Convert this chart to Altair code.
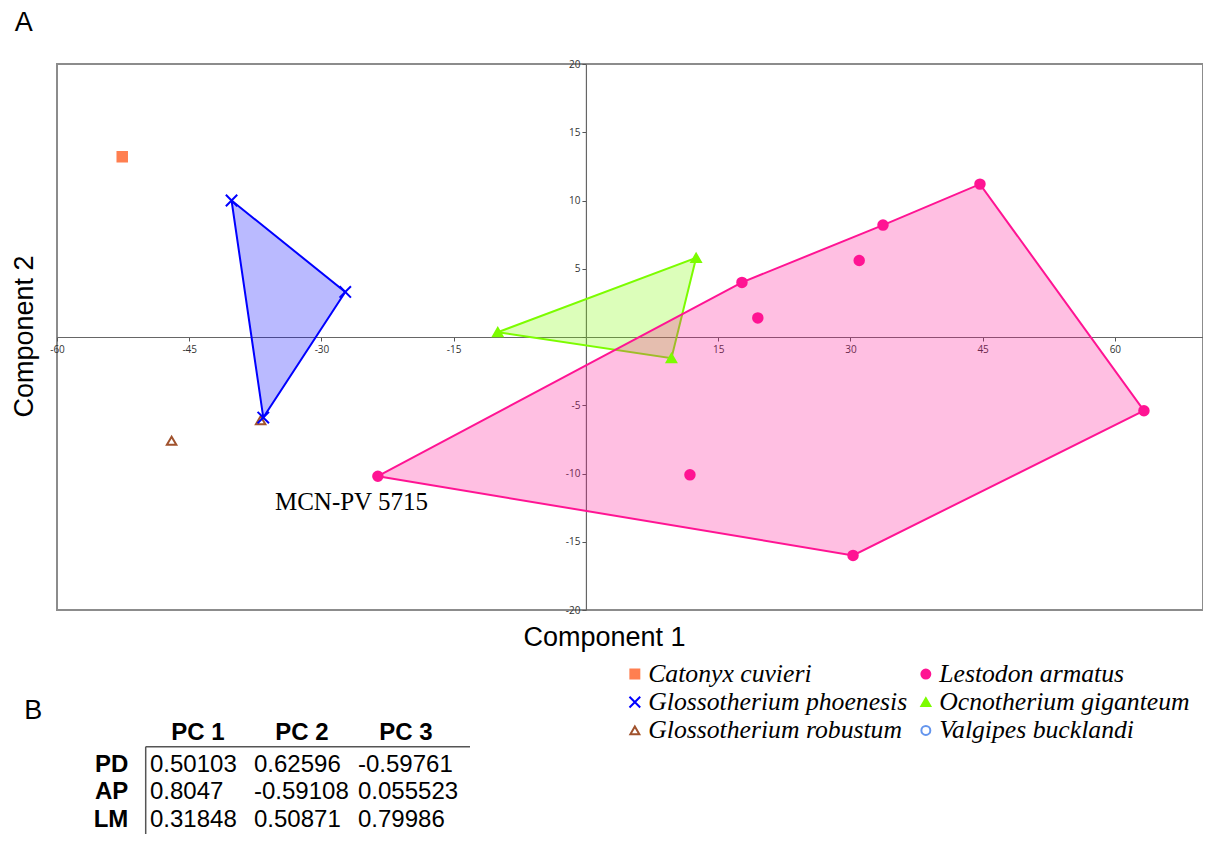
import altair as alt
import pandas as pd

# ---------------- Panel A data ----------------
species_order = ["Catonyx cuvieri", "Glossotherium phoenesis", "Glossotherium robustum",
                 "Lestodon armatus", "Ocnotherium giganteum", "Valgipes bucklandi"]

catonyx_x = [-52.6]
catonyx_y = [13.2]
robustum_x = [-47.0, -36.9]
robustum_y = [-7.6, -6.1]
phoenesis_x = [-40.2, -27.3, -36.6]
phoenesis_y = [10.0, 3.3, -5.9]
ocnotherium_x = [-10.0, 12.5, 9.7]
ocnotherium_y = [0.35, 5.8, -1.55]
lestodon_x = [-23.6, 17.7, 19.5, 31.0, 33.7, 44.7, 63.3, 30.3, 11.8]
lestodon_y = [-10.2, 4.0, 1.4, 5.6, 8.2, 11.2, -5.4, -16.0, -10.1]

# hull vertex order (indices into the series above)
phoenesis_hull = [0, 1, 2, 0]
ocnotherium_hull = [0, 1, 2, 0]
lestodon_hull = [0, 1, 4, 5, 6, 7, 0]

annot_text = ["MCN-PV 5715"]
annot_x = [-26.6]
annot_y = [-12.1]

x_ticks = [-60, -45, -30, -15, 0, 15, 30, 45, 60]
y_ticks = [-20, -15, -10, -5, 0, 5, 10, 15, 20]

# ---------------- Panel B data ----------------
pc_cols = ["PC 1", "PC 2", "PC 3"]
var_rows = ["PD", "AP", "LM"]
load_PD = ["0.50103", "0.62596", "-0.59761"]
load_AP = ["0.8047", "-0.59108", "0.055523"]
load_LM = ["0.31848", "0.50871", "0.79986"]

# ---------------- styles ----------------
fill_range = ["#ff7f50", "transparent", "transparent", "#ff1493", "#7cfc00", "transparent"]
stroke_range = ["#ff7f50", "#0000ff", "#a0522d", "#ff1493", "#7cfc00", "#6495ed"]
shape_range = ["square", "M-1.2,-1.2L1.2,1.2M-1.2,1.2L1.2,-1.2", "triangle-up",
               "circle", "triangle-up", "circle"]

W, H = 1146, 546
X0 = W * 60 / 130  # pixel position of x = 0
XS = alt.Scale(domain=[-60, 70], nice=False, zero=False)
YS = alt.Scale(domain=[-20, 20], nice=False, zero=False)
common_axis = dict(grid=False, labelFlush=False, labelFont="Open Sans", labelFontSize=10,
                   labelColor="#333333", tickSize=4, tickColor="#555555",
                   domainColor="#666666", domainWidth=1.2, titleFont="Liberation Sans",
                   titleFontSize=27, titleFontWeight="normal", titleColor="black",
                   titleBaseline="alphabetic",
                   labelExpr="datum.value == 0 ? '' : toString(datum.value)")
X_AXIS = alt.Axis(values=x_ticks, offset=-H / 2, title="Component 1", titleX=547, titleY=308,
                  labelPadding=3, **common_axis)
Y_AXIS = alt.Axis(values=y_ticks, offset=-X0, title="Component 2", titleX=-24.5 - X0,
                  titleY=272, titleAngle=-90, labelPadding=2, **common_axis)


def xenc():
    return alt.X("x:Q", scale=XS, axis=X_AXIS)


def yenc():
    return alt.Y("y:Q", scale=YS, axis=Y_AXIS)


def hull_layer(xs, ys, order, color):
    df = pd.DataFrame({"x": [xs[i] for i in order], "y": [ys[i] for i in order],
                       "o": list(range(len(order)))})
    return alt.Chart(df).mark_line(stroke=color, fill=color, fillOpacity=0.27,
                                   strokeWidth=2).encode(
        x=xenc(), y=yenc(), order=alt.Order("o:Q"))


hulls = [
    hull_layer(phoenesis_x, phoenesis_y, phoenesis_hull, "#0000ff"),
    hull_layer(ocnotherium_x, ocnotherium_y, ocnotherium_hull, "#7cfc00"),
    hull_layer(lestodon_x, lestodon_y, lestodon_hull, "#ff1493"),
]

rows = []
for name, xs, ys in [("Catonyx cuvieri", catonyx_x, catonyx_y),
                     ("Glossotherium robustum", robustum_x, robustum_y),
                     ("Glossotherium phoenesis", phoenesis_x, phoenesis_y),
                     ("Ocnotherium giganteum", ocnotherium_x, ocnotherium_y),
                     ("Lestodon armatus", lestodon_x, lestodon_y)]:
    for a, b in zip(xs, ys):
        rows.append({"species": name, "x": a, "y": b})
pts = pd.DataFrame(rows)

leg = alt.Legend(title=None, orient="none", legendX=565, legendY=597, columns=2,
                 columnPadding=5, rowPadding=1.3, labelFont="Liberation Serif",
                 labelFontStyle="italic", labelFontSize=25.7, labelColor="black",
                 labelLimit=500, labelOffset=0.5, symbolSize=80, symbolStrokeWidth=2,
                 padding=0)

points = alt.Chart(pts).mark_point(size=90, strokeWidth=2, opacity=1).encode(
    x=xenc(), y=yenc(),
    fill=alt.Fill("species:N", scale=alt.Scale(domain=species_order, range=fill_range), legend=leg),
    stroke=alt.Stroke("species:N", scale=alt.Scale(domain=species_order, range=stroke_range), legend=leg),
    shape=alt.Shape("species:N", scale=alt.Scale(domain=species_order, range=shape_range), legend=leg),
)

annot = alt.Chart(pd.DataFrame({"t": annot_text, "x": annot_x, "y": annot_y})).mark_text(
    font="Liberation Serif", fontSize=25, color="black", align="center", baseline="middle"
).encode(x=xenc(), y=yenc(), text="t:N")

plot = alt.layer(*hulls, points, annot)

# ---------------- Panel B (table) ----------------
TX = alt.Scale(type="point", domain=pc_cols, range=[93, 301], padding=0)
TY = alt.Scale(type="point", domain=var_rows, range=[700.5, 755.5], padding=0)

vals = []
for r, lst in zip(var_rows, [load_PD, load_AP, load_LM]):
    for c, v in zip(pc_cols, lst):
        vals.append({"row": r, "col": c, "val": v})

headers = alt.Chart(pd.DataFrame({"col": pc_cols})).mark_text(
    font="Liberation Sans", fontSize=24, fontWeight="bold", align="center",
    baseline="middle", dx=48, color="black"
).encode(x=alt.X("col:N", scale=TX, axis=None), y=alt.value(669), text="col:N")

rowlabels = alt.Chart(pd.DataFrame({"row": var_rows})).mark_text(
    font="Liberation Sans", fontSize=24, fontWeight="bold", align="right",
    baseline="middle", color="black"
).encode(x=alt.value(71.3), y=alt.Y("row:N", scale=TY, axis=None), text="row:N")

values = alt.Chart(pd.DataFrame(vals)).mark_text(
    font="Liberation Sans", fontSize=24, align="left", baseline="middle", color="black"
).encode(x=alt.X("col:N", scale=TX, axis=None), y=alt.Y("row:N", scale=TY, axis=None),
         text="val:N")

one = pd.DataFrame({"k": [0]})
hline = alt.Chart(one).mark_rule(color="#555555", strokeWidth=1.5).encode(
    x=alt.value(88.7), x2=alt.value(413), y=alt.value(682.7))
vline = alt.Chart(one).mark_rule(color="#555555", strokeWidth=1.5).encode(
    x=alt.value(88.7), y=alt.value(682.7), y2=alt.value(790))

letterA = alt.Chart(pd.DataFrame({"t": ["A"]})).mark_text(
    font="Liberation Sans", fontSize=27, align="center", baseline="middle", color="black"
).encode(x=alt.value(-33.3), y=alt.value(-41.5), text="t:N")
letterB = alt.Chart(pd.DataFrame({"t": ["B"]})).mark_text(
    font="Liberation Sans", fontSize=27, align="center", baseline="middle", color="black"
).encode(x=alt.value(-23.7), y=alt.value(647), text="t:N")

table = alt.layer(headers, rowlabels, values, hline, vline, letterA, letterB)

chart = alt.layer(plot, table).resolve_scale(x="independent", y="independent").properties(
    width=W, height=H,
    padding={"left": 49, "top": 56, "right": 0, "bottom": 224},
    autosize=alt.AutoSizeParams(type="none"),
).configure_view(stroke="#8c8c8c", strokeWidth=2)

chart.save("out.html", embed_options={"renderer": "svg", "actions": False})
